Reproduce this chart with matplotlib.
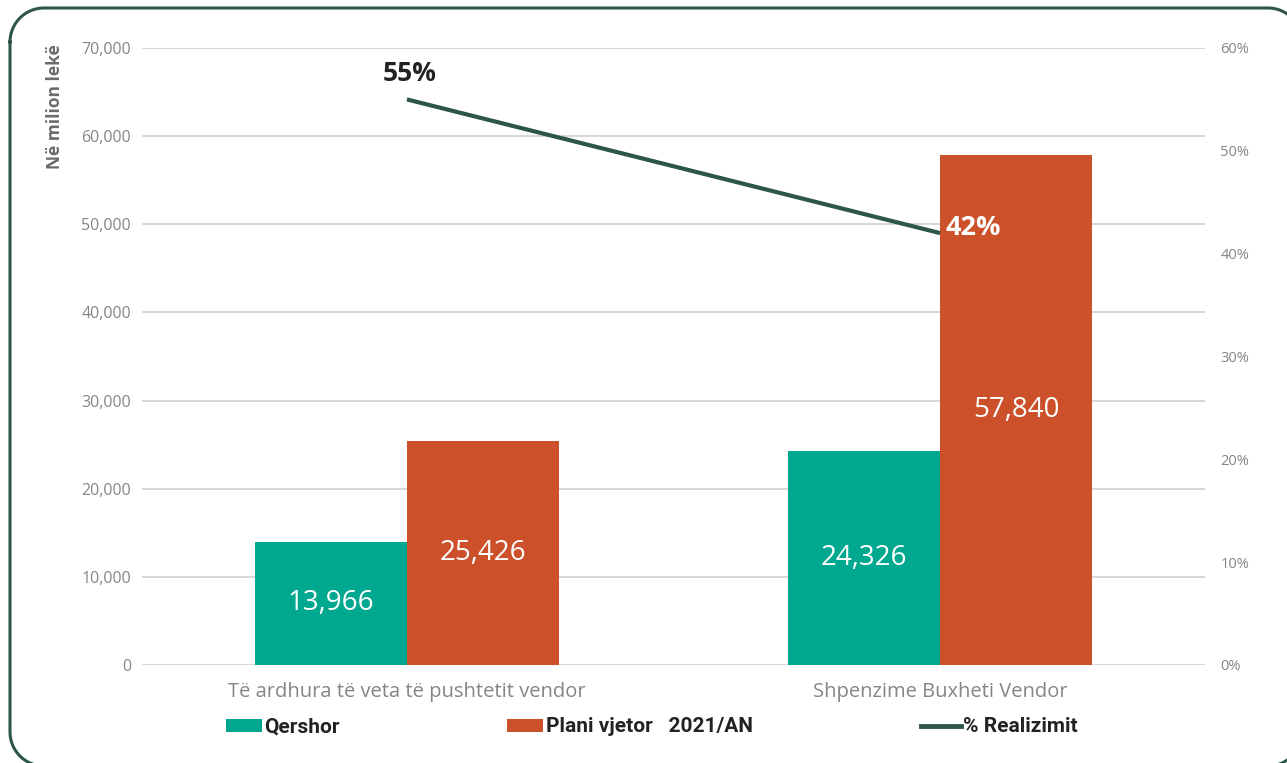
import matplotlib
matplotlib.use("Agg")
import matplotlib.pyplot as plt
from matplotlib.patches import Patch
from matplotlib.lines import Line2D
import numpy as np

categories = ["Të ardhura të veta të pushtetit vendor", "Shpenzime Buxheti Vendor"]
qershor = [13966, 24326]
plani = [25426, 57840]
realizimi = [0.55, 0.42]
left_ticks = [0, 10000, 20000, 30000, 40000, 50000, 60000, 70000]
right_ticks = [0, 0.1, 0.2, 0.3, 0.4, 0.5, 0.6]
legend_labels = ["Qershor", "Plani vjetor   2021/AN", "% Realizimit"]

TEAL = "#00A88F"
ORANGE = "#CC5029"
DARK = "#2D5647"
GRAY = "#858585"

plt.rcParams['font.family'] = ['Open Sans', 'DejaVu Sans']

W, H = 1287, 763
fig = plt.figure(figsize=(W / 100, H / 100), dpi=100)
ax = fig.add_axes([142 / W, 1 - 665 / H, (1205 - 142) / W, (665 - 48) / H])

x = np.arange(len(categories))
bw = 0.285
b1 = ax.bar(x - bw / 2, qershor, bw, color=TEAL, zorder=2)
b2 = ax.bar(x + bw / 2, plani, bw, color=ORANGE, zorder=2)
ax.set_xlim(-0.497, 1.497)
ax.set_ylim(0, 70000)
ax.set_yticks(left_ticks)
ax.set_yticklabels([f"{v:,}" for v in left_ticks])
ax.grid(axis='y', color="#cccccc", linewidth=1.1, zorder=0)
ax.set_axisbelow(True)
for s in ax.spines.values():
    s.set_visible(False)
ax.tick_params(axis='y', length=0, pad=8, labelsize=11.5, labelcolor=GRAY)
ax.tick_params(axis='x', length=0, pad=12, labelsize=14.5, labelcolor=GRAY)
ax.set_xticks(x)
ax.set_xticklabels(categories)

for bars, vals in ((b1, qershor), (b2, plani)):
    for rect, v in zip(bars, vals):
        ax.text(rect.get_x() + rect.get_width() / 2, v / 2, f"{v:,}",
                ha='center', va='center', color='white', fontsize=20, zorder=3)

ax2 = ax.twinx()
ax2.set_ylim(0, 0.6)
ax2.set_yticks(right_ticks)
ax2.set_yticklabels([f"{int(round(v * 100))}%" for v in right_ticks])
ax2.tick_params(axis='y', length=0, pad=11, labelsize=10.5, labelcolor=GRAY)
for s in ax2.spines.values():
    s.set_visible(False)
ax2.plot(x, realizimi, color=DARK, linewidth=3, solid_capstyle='butt', zorder=4)
ax2.annotate(f"{int(round(realizimi[0] * 100))}%", (x[0], realizimi[0]),
             xytext=(2, 19), textcoords='offset points', ha='center', va='center',
             fontsize=19, fontweight='bold', color="#222222")
ax2.annotate(f"{int(round(realizimi[1] * 100))}%", (x[1], realizimi[1]),
             xytext=(4, 4), textcoords='offset points', ha='left', va='center',
             fontsize=19.5, fontweight='bold', color="white")

fig.text(55 / W, 1 - 107 / H, "Në milion lekë", rotation=90, ha='center', va='center',
         fontsize=12.5, fontweight='bold', color="#6b6b6b")

handles = [Patch(facecolor=TEAL, edgecolor='none'),
           Patch(facecolor=ORANGE, edgecolor='none'),
           Line2D([0], [0], color=DARK, linewidth=3.5)]
starts = [226, 507, 921]
hlens = [1.75, 1.75, 1.9]
for h, lab, xs, hl in zip(handles, legend_labels, starts, hlens):
    leg = fig.legend([h], [lab], loc='center left', bbox_to_anchor=(xs / W, 1 - 727 / H),
                     frameon=False, handlelength=hl, handleheight=0.6,
                     handletextpad=0.1, borderpad=0, borderaxespad=0,
                     prop={'family': ['Roboto', 'DejaVu Sans'], 'weight': 'bold', 'size': 15})
    for t in leg.get_texts():
        t.set_color("#222222")

# rounded frame as a polyline (image pixels, y from top), drawn in figure fractions
x0, x1, yt, yb, r = 10, 1302, 8, 766, 34
t = np.linspace(0, np.pi / 2, 24)
px, py = [], []
# top-left corner
px += list(x0 + r - r * np.cos(t)); py += list(yt + r - r * np.sin(t))
# top-right
px += list(x1 - r + r * np.sin(t)); py += list(yt + r - r * np.cos(t))
# bottom-right
px += list(x1 - r + r * np.cos(t)); py += list(yb - r + r * np.sin(t))
# bottom-left
px += list(x0 + r - r * np.sin(t)); py += list(yb - r + r * np.cos(t))
px.append(px[0]); py.append(py[0])
frame = Line2D(np.array(px) / W, 1 - np.array(py) / H, transform=fig.transFigure,
               color=DARK, linewidth=2.2, solid_joinstyle='round')
fig.lines.append(frame)

fig.savefig("out.png", dpi=100)
